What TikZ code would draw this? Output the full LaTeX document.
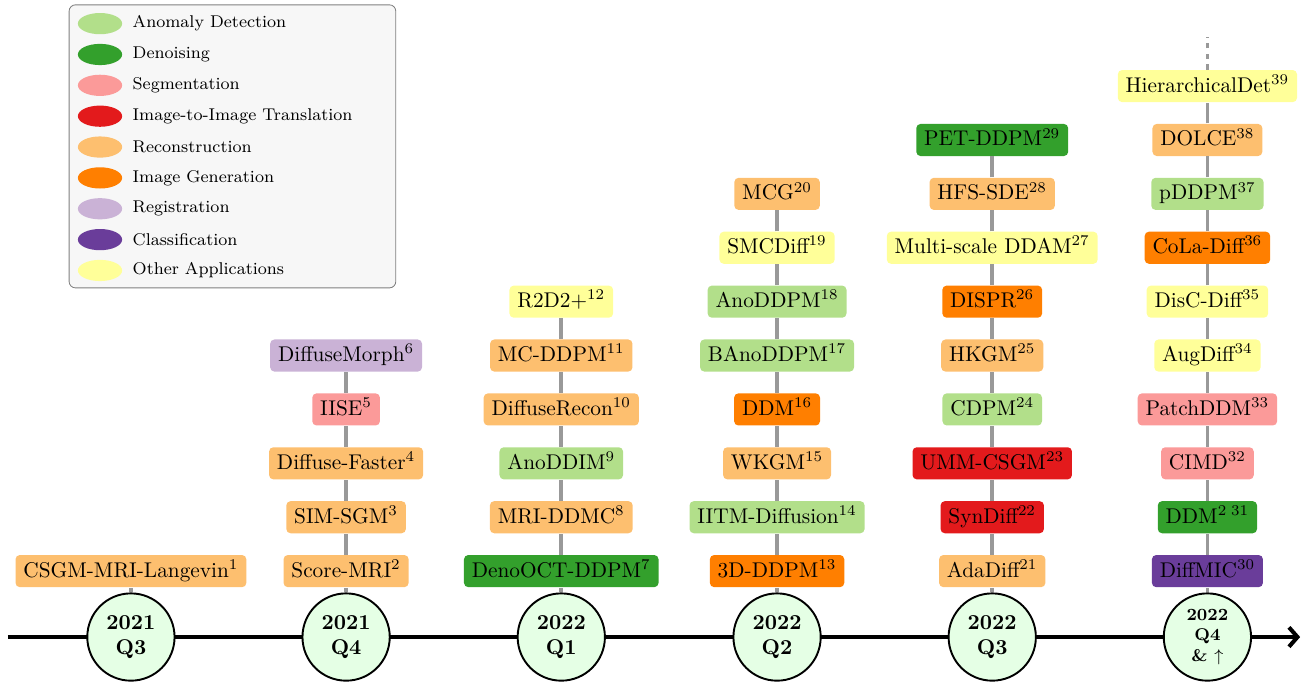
\documentclass[tikz,border=0pt]{standalone}
\usepackage{tikz}
\usepackage{amsmath}
\usetikzlibrary{arrows.meta}
\usetikzlibrary{positioning, shapes.geometric}

\definecolor{anomaly}{HTML}{B2DF8A}
\definecolor{denoise}{HTML}{33A02C}
\definecolor{segment}{HTML}{FB9A99}
\definecolor{imgtrans}{HTML}{E31A1C}
\definecolor{recon}{HTML}{FDBF6F}
\definecolor{imggen}{HTML}{FF7F00}
\definecolor{regis}{HTML}{CAB2D6}
\definecolor{classif}{HTML}{6A3D9A}
\definecolor{otherapp}{HTML}{FFFF99}

\begin{document}
\begin{tikzpicture}[
  >=Stealth, node distance=3.45mm,
  paper/.style={rectangle,rounded corners=2pt,minimum height=5.3mm,
    inner xsep=1.3mm,inner ysep=0.75mm,text height=1.9ex,text depth=0.6ex},
  quarter/.style={circle,draw,line width=0.9pt,fill=green!10,
    minimum size=14.4mm,inner sep=0pt,align=center,font=\bfseries},
  link/.style={line width=1.8pt,black!40},
  legdot/.style={ellipse,minimum width=7.3mm,minimum height=3.5mm,inner sep=0pt},
  legtxt/.style={inner sep=0pt,font=\footnotesize}
]
\useasboundingbox (0,0) rectangle (21.53,11.27);

% --- Legend ---
\draw[gray,fill=gray!6,rounded corners=3pt] (1.14,6.52) rectangle (6.53,11.19);
\node[legdot,fill=anomaly] (l1) at (1.65,10.88) {};
\node[legdot,fill=denoise,below=1.45mm of l1] (l2) {};
\node[legdot,fill=segment,below=1.45mm of l2] (l3) {};
\node[legdot,fill=imgtrans,below=1.45mm of l3] (l4) {};
\node[legdot,fill=recon,below=1.45mm of l4] (l5) {};
\node[legdot,fill=imggen,below=1.45mm of l5] (l6) {};
\node[legdot,fill=regis,below=1.45mm of l6] (l7) {};
\node[legdot,fill=classif,below=1.45mm of l7] (l8) {};
\node[legdot,fill=otherapp,below=1.45mm of l8] (l9) {};
\node[legtxt,right=1.6mm of l1] (t1) {Anomaly Detection};
\node[legtxt,right=1.6mm of l2] (t2) {Denoising};
\node[legtxt,right=1.6mm of l3] (t3) {Segmentation};
\node[legtxt,right=1.6mm of l4] (t4) {Image-to-Image Translation};
\node[legtxt,right=1.6mm of l5] (t5) {Reconstruction};
\node[legtxt,right=1.6mm of l6] (t6) {Image Generation};
\node[legtxt,right=1.6mm of l7] (t7) {Registration};
\node[legtxt,right=1.6mm of l8] (t8) {Classification};
\node[legtxt,right=1.6mm of l9] (t9) {Other Applications};

% --- Time axis ---
\coordinate (axstart) at (0.13,0.76);
\coordinate (axend) at (21.45,0.76);
\draw[-{Straight Barb[length=1.4mm,width=3.2mm]},line width=1.9pt] (axstart) -- (axend);

% --- 2021 Q3 ---
\node[quarter] (q1) at (2.16,0.76) {2021\\Q3};
\node[paper,fill=recon,above=0.8mm of q1] (csgm) {CSGM-MRI-Langevin$^{1}$};

% --- 2021 Q4 ---
\node[quarter] (q2) at (5.71,0.76) {2021\\Q4};
\node[paper,fill=recon,above=0.8mm of q2] (score) {Score-MRI$^{2}$};
\node[paper,fill=recon,above=of score] (simsgm) {SIM-SGM$^{3}$};
\node[paper,fill=recon,above=of simsgm] (dfaster) {Diffuse-Faster$^{4}$};
\node[paper,fill=segment,above=of dfaster] (iise) {IISE$^{5}$};
\node[paper,fill=regis,above=of iise] (dmorph) {DiffuseMorph$^{6}$};

% --- 2022 Q1 ---
\node[quarter] (q3) at (9.26,0.76) {2022\\Q1};
\node[paper,fill=denoise,above=0.8mm of q3] (denooct) {DenoOCT-DDPM$^{7}$};
\node[paper,fill=recon,above=of denooct] (mriddmc) {MRI-DDMC$^{8}$};
\node[paper,fill=anomaly,above=of mriddmc] (anoddim) {AnoDDIM$^{9}$};
\node[paper,fill=recon,above=of anoddim] (drecon) {DiffuseRecon$^{10}$};
\node[paper,fill=recon,above=of drecon] (mcddpm) {MC-DDPM$^{11}$};
\node[paper,fill=otherapp,above=of mcddpm] (rtwod) {R2D2+$^{12}$};

% --- 2022 Q2 ---
\node[quarter] (q4) at (12.82,0.76) {2022\\Q2};
\node[paper,fill=imggen,above=0.8mm of q4] (ddpmthree) {3D-DDPM$^{13}$};
\node[paper,fill=anomaly,above=of ddpmthree] (iitm) {IITM-Diffusion$^{14}$};
\node[paper,fill=recon,above=of iitm] (wkgm) {WKGM$^{15}$};
\node[paper,fill=imggen,above=of wkgm] (ddm) {DDM$^{16}$};
\node[paper,fill=anomaly,above=of ddm] (banoddpm) {BAnoDDPM$^{17}$};
\node[paper,fill=anomaly,above=of banoddpm] (anoddpm) {AnoDDPM$^{18}$};
\node[paper,fill=otherapp,above=of anoddpm] (smcdiff) {SMCDiff$^{19}$};
\node[paper,fill=recon,above=of smcdiff] (mcg) {MCG$^{20}$};

% --- 2022 Q3 ---
\node[quarter] (q5) at (16.37,0.76) {2022\\Q3};
\node[paper,fill=recon,above=0.8mm of q5] (adadiff) {AdaDiff$^{21}$};
\node[paper,fill=imgtrans,above=of adadiff] (syndiff) {SynDiff$^{22}$};
\node[paper,fill=imgtrans,above=of syndiff] (ummcsgm) {UMM-CSGM$^{23}$};
\node[paper,fill=anomaly,above=of ummcsgm] (cdpm) {CDPM$^{24}$};
\node[paper,fill=recon,above=of cdpm] (hkgm) {HKGM$^{25}$};
\node[paper,fill=imggen,above=of hkgm] (dispr) {DISPR$^{26}$};
\node[paper,fill=otherapp,above=of dispr] (msddam) {Multi-scale DDAM$^{27}$};
\node[paper,fill=recon,above=of msddam] (hfssde) {HFS-SDE$^{28}$};
\node[paper,fill=denoise,above=of hfssde] (petddpm) {PET-DDPM$^{29}$};

% --- 2022 Q4 and later ---
\node[quarter,font=\footnotesize\bfseries] (q6) at (19.92,0.76) {2022\\Q4\\\& $\uparrow$};
\node[paper,fill=classif,above=0.8mm of q6] (diffmic) {DiffMIC$^{30}$};
\node[paper,fill=denoise,above=of diffmic] (ddmtwo) {DDM$^{2\;31}$};
\node[paper,fill=segment,above=of ddmtwo] (cimd) {CIMD$^{32}$};
\node[paper,fill=segment,above=of cimd] (patchddm) {PatchDDM$^{33}$};
\node[paper,fill=otherapp,above=of patchddm] (augdiff) {AugDiff$^{34}$};
\node[paper,fill=otherapp,above=of augdiff] (discdiff) {DisC-Diff$^{35}$};
\node[paper,fill=imggen,above=of discdiff] (coladiff) {CoLa-Diff$^{36}$};
\node[paper,fill=anomaly,above=of coladiff] (pddpm) {pDDPM$^{37}$};
\node[paper,fill=recon,above=of pddpm] (dolce) {DOLCE$^{38}$};
\node[paper,fill=otherapp,above=of dolce] (hierdet) {HierarchicalDet$^{39}$};
\coordinate[above=5.3mm of hierdet] (more);

% --- Links ---
\draw[link] (q1) -- (csgm);
\draw[link] (q2) -- (score) (score) -- (simsgm) (simsgm) -- (dfaster)
  (dfaster) -- (iise) (iise) -- (dmorph);
\draw[link] (q3) -- (denooct) (denooct) -- (mriddmc) (mriddmc) -- (anoddim)
  (anoddim) -- (drecon) (drecon) -- (mcddpm) (mcddpm) -- (rtwod);
\draw[link] (q4) -- (ddpmthree) (ddpmthree) -- (iitm) (iitm) -- (wkgm)
  (wkgm) -- (ddm) (ddm) -- (banoddpm) (banoddpm) -- (anoddpm)
  (anoddpm) -- (smcdiff) (smcdiff) -- (mcg);
\draw[link] (q5) -- (adadiff) (adadiff) -- (syndiff) (syndiff) -- (ummcsgm)
  (ummcsgm) -- (cdpm) (cdpm) -- (hkgm) (hkgm) -- (dispr)
  (dispr) -- (msddam) (msddam) -- (hfssde) (hfssde) -- (petddpm);
\draw[link] (q6) -- (diffmic) (diffmic) -- (ddmtwo) (ddmtwo) -- (cimd)
  (cimd) -- (patchddm) (patchddm) -- (augdiff) (augdiff) -- (discdiff)
  (discdiff) -- (coladiff) (coladiff) -- (pddpm) (pddpm) -- (dolce)
  (dolce) -- (hierdet);
\draw[link,dash pattern=on 2.5pt off 2.5pt] (hierdet) -- (more);

\end{tikzpicture}
\end{document}
